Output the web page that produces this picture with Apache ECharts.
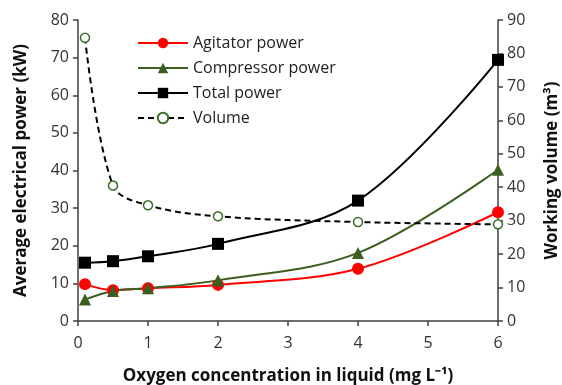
<!DOCTYPE html>
<html><head><meta charset="utf-8">
<script src="https://cdn.jsdelivr.net/npm/echarts@6/dist/echarts.min.js"></script>
<style>html,body{margin:0;padding:0;background:#fff}#c{width:562px;height:385px}</style>
</head><body><div id="c"></div>
<script>
const oxygen = [0.1, 0.5, 1, 2, 4, 6];
const agitator = [9.8, 8.2, 8.7, 9.6, 13.9, 28.9];
const compressor = [5.7, 8.0, 8.7, 10.8, 18.1, 40.2];
const total = [15.5, 15.9, 17.2, 20.5, 32.0, 69.4];
const volume = [84.7, 40.5, 34.6, 31.3, 29.6, 28.9];
const seriesNames = ['Agitator power', 'Compressor power', 'Total power', 'Volume'];

const pair = arr => oxygen.map((x, i) => [x, arr[i]]);
const font = 'Open Sans';
const axisCol = '#404040';
const chart = echarts.init(document.getElementById('c'), null, {renderer: 'canvas'});
chart.setOption({
  animation: false,
  textStyle: {fontFamily: font},
  grid: {left: 78, right: 64, top: 20, bottom: 64, containLabel: false, outerBoundsMode: 'none'},
  legend: {
    orient: 'vertical', left: 132, top: 30, itemWidth: 50, itemHeight: 13, itemGap: 9,
    textStyle: {fontSize: 16, color: '#222', fontFamily: font},
    data: seriesNames
  },
  xAxis: {
    type: 'value', min: 0, max: 6, interval: 1,
    name: 'Oxygen concentration in liquid (mg L\u207B\u00B9)', nameLocation: 'middle', nameGap: 47,
    nameTextStyle: {fontSize: 17, fontWeight: 'bold', color: '#111', fontFamily: font},
    axisLine: {lineStyle: {color: axisCol, width: 1.5}},
    axisTick: {show: true, length: 5, lineStyle: {color: axisCol, width: 1.5}},
    axisLabel: {fontSize: 16, color: '#333', margin: 14},
    splitLine: {show: false}
  },
  yAxis: [{
    type: 'value', min: 0, max: 80, interval: 10,
    name: 'Average electrical power (kW)', nameLocation: 'middle', nameGap: 48, nameRotate: 90,
    nameTextStyle: {fontSize: 17, fontWeight: 'bold', color: '#111', fontFamily: font},
    axisLine: {show: true, lineStyle: {color: axisCol, width: 1.5}},
    axisTick: {show: true, length: 5, lineStyle: {color: axisCol, width: 1.5}},
    axisLabel: {fontSize: 16, color: '#333', margin: 9},
    splitLine: {show: false}
  }, {
    type: 'value', min: 0, max: 90, interval: 10, position: 'right',
    name: 'Working volume (m\u00B3)', nameLocation: 'middle', nameGap: 46, nameRotate: 90,
    nameTextStyle: {fontSize: 17, fontWeight: 'bold', color: '#111', fontFamily: font},
    axisLine: {show: true, lineStyle: {color: axisCol, width: 1.5}},
    axisTick: {show: true, length: 5, lineStyle: {color: axisCol, width: 1.5}},
    axisLabel: {fontSize: 16, color: '#333', margin: 9},
    splitLine: {show: false}
  }],
  series: [{
    name: seriesNames[0], type: 'line', smooth: 0.35, data: pair(agitator),
    symbol: 'circle', symbolSize: 12,
    lineStyle: {color: '#ff0000', width: 2}, itemStyle: {color: '#ff0000'}
  }, {
    name: seriesNames[1], type: 'line', smooth: 0.35, data: pair(compressor),
    symbol: 'triangle', symbolSize: 12,
    lineStyle: {color: '#3a5f1f', width: 2}, itemStyle: {color: '#3a5f1f'}
  }, {
    name: seriesNames[2], type: 'line', smooth: 0.35, data: pair(total),
    symbol: 'rect', symbolSize: 12,
    lineStyle: {color: '#000', width: 2}, itemStyle: {color: '#000'}
  }, {
    name: seriesNames[3], type: 'line', smooth: 0.35, yAxisIndex: 1, data: pair(volume),
    symbol: 'circle', symbolSize: 9,
    lineStyle: {color: '#000', width: 2, type: [6, 4]},
    itemStyle: {color: '#fff', borderColor: '#3a6e28', borderWidth: 1.5}
  }]
});
</script></body></html>
